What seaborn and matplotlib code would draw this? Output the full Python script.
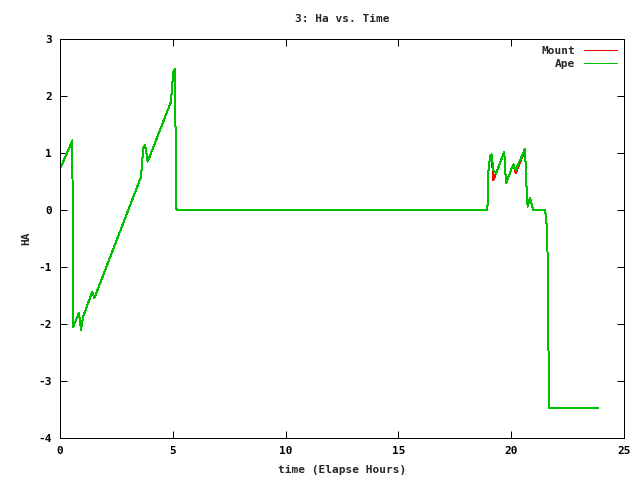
import pandas as pd
import matplotlib
matplotlib.use("Agg")
import matplotlib.pyplot as plt
import seaborn as sns

# elapsed hours (shared by both series)
hours = [
    0.00, 0.55, 0.56, 0.59, 0.84, 0.93, 1.03, 1.43, 1.52, 3.59,
    3.69, 3.77, 3.89, 4.92, 5.02, 5.10, 5.11, 5.14, 5.15, 5.22,
    18.94, 18.97, 18.99, 19.06, 19.13, 19.21, 19.33, 19.69, 19.77, 20.09,
    20.20, 20.61, 20.64, 20.69, 20.73, 20.83, 20.91, 20.97, 21.50, 21.55,
    21.60, 21.63, 21.66, 21.69, 23.86,
]

ha_ape = [
    0.72, 1.22, -0.41, -2.05, -1.80, -2.10, -1.87, -1.43, -1.55, 0.58,
    1.08, 1.14, 0.85, 1.90, 2.43, 2.47, 1.87, 0.64, 0.02, 0.00,
    0.00, 0.23, 0.67, 0.94, 0.98, 0.70, 0.64, 1.02, 0.47, 0.80,
    0.70, 1.07, 0.79, 0.29, 0.06, 0.22, 0.09, 0.00, 0.00, -0.15,
    -0.47, -1.35, -2.78, -3.48, -3.48,
]

ha_mount = [
    0.72, 1.22, -0.41, -2.05, -1.80, -2.10, -1.87, -1.43, -1.55, 0.58,
    1.08, 1.14, 0.85, 1.90, 2.43, 2.47, 1.87, 0.64, 0.02, 0.00,
    0.00, 0.23, 0.67, 0.94, 0.98, 0.53, 0.64, 1.02, 0.47, 0.80,
    0.65, 1.05, 0.79, 0.29, 0.06, 0.22, 0.09, 0.00, 0.00, -0.15,
    -0.47, -1.35, -2.78, -3.48, -3.48,
]

series_names = ["Mount", "Ape"]
series_colors = ["#ff0000", "#00c000"]

df = pd.concat([
    pd.DataFrame({"time": hours, "HA": ha_mount, "series": "Mount"}),
    pd.DataFrame({"time": hours, "HA": ha_ape, "series": "Ape"}),
])

sns.set_theme(style="ticks")
plt.rcParams["font.family"] = ["DejaVu Sans Mono"]
plt.rcParams["font.weight"] = "bold"
plt.rcParams["axes.unicode_minus"] = False

fig = plt.figure(figsize=(6.4, 4.8), dpi=100)
ax = fig.add_axes([0.09375, 0.0875, 0.88125, 0.83125])

sns.lineplot(
    data=df,
    x="time",
    y="HA",
    hue="series",
    hue_order=series_names,
    palette=series_colors,
    estimator=None,
    sort=False,
    linewidth=0.72,
    antialiased=False,
    ax=ax
)

ax.set_xlim(0, 25)
ax.set_ylim(-4, 3)
ax.set_xticks(range(0, 26, 5))
ax.set_yticks(range(-4, 4))

ax.tick_params(
    direction="in",
    top=True,
    right=True,
    length=5,
    width=0.72,
    labelsize=8,
    colors="black",
    pad=6
)

for spine in ax.spines.values():
    spine.set_visible(True)
    spine.set_color("black")
    spine.set_linewidth(0.72)

ax.set_title("3: Ha vs. Time", fontsize=8, fontweight="bold", pad=12)
ax.set_xlabel("time (Elapse Hours)", fontsize=8, fontweight="bold", labelpad=6)
ax.set_ylabel("HA", fontsize=8, fontweight="bold", labelpad=5)

legend = ax.legend(
    loc="upper right",
    markerfirst=False,
    frameon=False,
    fontsize=8,
    handlelength=3.0,
    labelspacing=0.3,
    borderaxespad=0.2
)
for text in legend.get_texts():
    text.set_fontweight("bold")
for line in legend.get_lines():
    line.set_linewidth(0.72)

fig.savefig("out.png", dpi=100)
